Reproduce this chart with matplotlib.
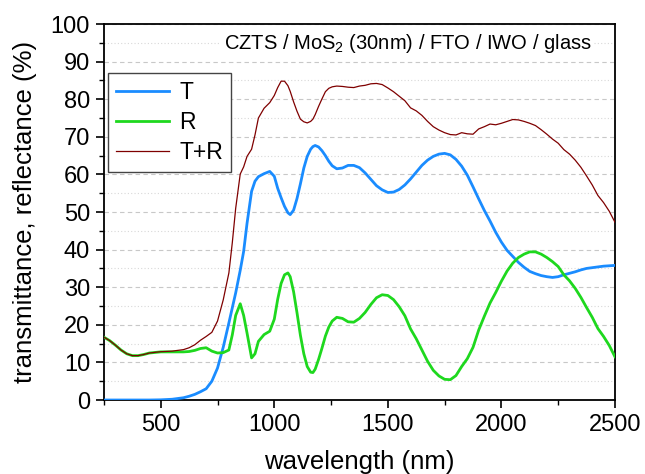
import numpy as np
import matplotlib
matplotlib.use('Agg')
import matplotlib.pyplot as plt
from matplotlib.ticker import MultipleLocator

plt.rcParams['font.family'] = ['Liberation Sans', 'DejaVu Sans']

# wavelength grid (nm)
wl = [250, 275, 300, 325, 350, 375, 400, 425, 450, 500, 550, 600, 625, 650, 675,
      700, 725, 750, 775, 800, 815, 830, 850, 865, 880, 900, 915, 930, 955, 980,
      1000, 1015, 1030, 1045, 1060, 1070, 1085, 1100, 1115, 1130, 1145, 1160, 1170,
      1180, 1195, 1210, 1225, 1240, 1255, 1275, 1300, 1325, 1350, 1375, 1400, 1425,
      1450, 1475, 1500, 1525, 1550, 1575, 1600, 1625, 1650, 1675, 1700, 1725, 1750,
      1775, 1800, 1825, 1850, 1875, 1900, 1925, 1950, 1975, 2000, 2025, 2050, 2075,
      2100, 2125, 2150, 2175, 2200, 2225, 2250, 2275, 2300, 2325, 2350, 2375, 2400,
      2425, 2450, 2475, 2500]

# transmittance (%)
T = [0, 0, 0, 0, 0, 0, 0, 0, 0, 0.05, 0.2, 0.6, 1.0, 1.5, 2.2,
     3.0, 5.0, 8.5, 14.0, 20.5, 24.5, 28.5, 34.5, 39.5, 47.0, 55.5, 58.2, 59.4, 60.2, 60.8,
     59.5, 56.3, 53.8, 51.5, 49.8, 49.3, 50.5, 53.6, 57.5, 61.7, 64.8, 66.7, 67.4,
     67.7, 67.3, 66.3, 65.0, 63.5, 62.3, 61.5, 61.7, 62.4, 62.4, 61.8, 60.4, 58.7,
     57.0, 55.9, 55.2, 55.3, 56.0, 57.2, 58.8, 60.6, 62.4, 63.8, 64.8, 65.4, 65.6,
     65.2, 64.0, 62.2, 59.8, 56.7, 53.5, 50.4, 47.6, 44.6, 42.0, 39.8, 38.2, 36.6,
     35.3, 34.2, 33.6, 33.1, 32.8, 32.6, 32.8, 33.3, 33.7, 34.1, 34.6, 35.0, 35.2,
     35.4, 35.6, 35.7, 35.8]

# reflectance (%)
R = [16.7, 15.8, 14.6, 13.3, 12.3, 11.8, 11.8, 12.1, 12.5, 12.8, 12.8, 12.8, 12.9, 13.2, 13.7,
     13.9, 13.0, 12.5, 12.6, 13.3, 17.3, 22.5, 25.6, 22.5, 17.8, 11.2, 12.3, 15.6, 17.4, 18.3,
     21.5, 26.8, 31.0, 33.3, 33.8, 32.8, 28.8, 23.2, 17.2, 12.3, 8.9, 7.4, 7.3,
     8.2, 10.8, 13.8, 17.0, 19.4, 21.0, 22.0, 21.7, 20.8, 20.7, 21.7, 23.3, 25.4,
     27.2, 28.0, 27.8, 26.7, 24.8, 22.4, 18.9, 16.3, 13.3, 10.3, 7.9, 6.4, 5.5,
     5.4, 6.5, 8.9, 11.0, 14.0, 18.6, 22.3, 25.8, 28.6, 31.6, 34.3, 36.4, 37.9,
     38.8, 39.4, 39.4, 38.8, 37.9, 36.8, 35.5, 33.3, 31.7, 29.7, 27.3, 24.6, 22.0,
     19.0, 16.9, 14.5, 11.5]

wl = np.array(wl)
T = np.array(T)
R = np.array(R)
TR = T + R

fig = plt.figure(figsize=(6.45, 4.74), dpi=100)
ax = fig.add_axes([0.1612, 0.1561, 0.7922, 0.7932])

ax.plot(wl, T, color='#1a8cff', lw=2.0, label='T', zorder=3)
ax.plot(wl, R, color='#1ed81e', lw=2.0, label='R', zorder=3)
ax.plot(wl, TR, color='#7f0000', lw=0.9, label='T+R', zorder=3)

ax.set_xlim(250, 2500)
ax.set_ylim(0, 100)
ax.xaxis.set_major_locator(MultipleLocator(500))
ax.xaxis.set_minor_locator(MultipleLocator(250))
ax.yaxis.set_major_locator(MultipleLocator(10))
ax.yaxis.set_minor_locator(MultipleLocator(5))
ax.tick_params(which='major', direction='out', length=6, width=1.2, labelsize=17, pad=4)
ax.tick_params(which='minor', direction='out', length=3.5, width=1.0)
ax.grid(which='major', axis='y', color='#c8c8c8', ls=(0, (4, 3)), lw=0.8)
ax.grid(which='minor', axis='y', color='#d8d8d8', ls=(0, (1, 2)), lw=0.8)
ax.set_axisbelow(True)
for s in ax.spines.values():
    s.set_linewidth(1.3)

ax.set_xlabel('wavelength (nm)', fontsize=18.5, labelpad=10)
ax.set_ylabel('transmittance, reflectance (%)', fontsize=18.5, labelpad=10)

ax.text(0.594, 0.947, r'CZTS / MoS$_\mathregular{2}$ (30nm) / FTO / IWO / glass',
        transform=ax.transAxes, ha='center', va='center', fontsize=14.5,
        bbox=dict(facecolor='white', edgecolor='none', pad=2), zorder=4)

leg = ax.legend(loc='upper left', bbox_to_anchor=(0.008, 0.869), fontsize=16.5,
                fancybox=False, framealpha=1, edgecolor='#444444', handlelength=2.3,
                borderaxespad=0, labelspacing=0.3, handletextpad=0.45, borderpad=0.35)
leg.get_frame().set_linewidth(1.0)

fig.savefig('out.png', dpi=100)
